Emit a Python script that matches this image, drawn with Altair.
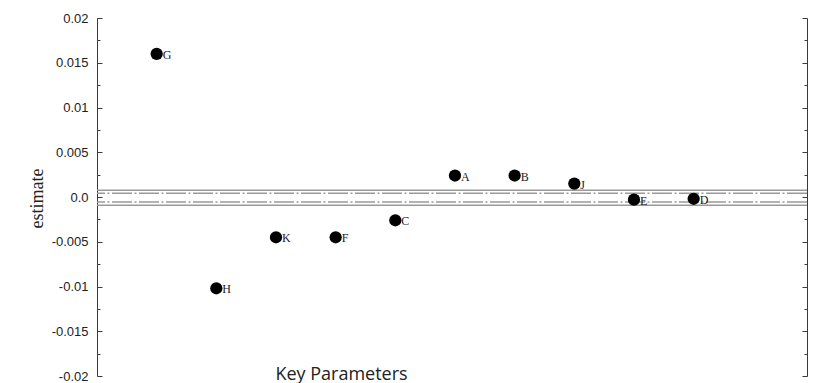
import altair as alt
import pandas as pd

# ---- data ----
params = ["G", "H", "K", "F", "C", "A", "B", "J", "E", "D"]
positions = [1, 2, 3, 4, 5, 6, 7, 8, 9, 10]
estimates = [0.016, -0.0102, -0.0045, -0.0045, -0.0026, 0.0024, 0.0024, 0.0015, -0.0003, -0.0002]
band_solid = [0.00076, -0.00092]
band_dashdot = [0.00042, -0.00056]
y_tick_values = [-0.02, -0.0175, -0.015, -0.0125, -0.01, -0.0075, -0.005, -0.0025, 0.0,
                 0.0025, 0.005, 0.0075, 0.01, 0.0125, 0.015, 0.0175, 0.02]

df = pd.DataFrame({"param": params, "pos": positions, "estimate": estimates})
df_solid = pd.DataFrame({"v": band_solid})
df_dd = pd.DataFrame({"v": band_dashdot})

W, H = 710, 358
FRAME = "#3a3a3a"
major = "abs(datum.value*200 - round(datum.value*200)) < 0.001"
tick_size = {"condition": {"test": major, "value": 5}, "value": 3}
label_expr = (major + " ? (datum.value == 0 ? '0.0' : replace(format(datum.value, '.3~f'), '\u2212', '-')) : ''")

xs = alt.Scale(domain=[0, 11.9], nice=False, zero=False)
ys = alt.Scale(domain=[-0.02, 0.02], nice=False, zero=False)

left_axis = alt.Axis(
    orient="right", offset=-W, values=y_tick_values, grid=False,
    domain=True, domainColor=FRAME, domainWidth=1,
    ticks=True, tickColor=FRAME, tickWidth=1, tickSize=tick_size,
    labelExpr=label_expr, labelAlign="right", labelBaseline="middle",
    labelPadding=-14, labelFont="Liberation Sans", labelFontSize=13,
    labelColor="#222222", labelOverlap=False,
    title="estimate", titleAngle=270, titleX=-60, titleY=180,
    titleAlign="center", titleBaseline="middle",
    titleFont="Liberation Serif", titleFontSize=18, titleFontWeight="normal",
    titleColor="#222222",
)
right_axis = alt.Axis(
    orient="left", offset=-W, values=y_tick_values, grid=False,
    domain=True, domainColor=FRAME, domainWidth=1,
    ticks=True, tickColor=FRAME, tickWidth=1, tickSize=tick_size,
    labels=False, title=None,
)
x_axis = alt.Axis(
    orient="bottom", domain=False, ticks=False, labels=False, grid=False,
    title="Key Parameters", titleX=244, titleY=3, titleAlign="center",
    titleBaseline="alphabetic", titleFont="Open Sans", titleFontSize=18,
    titleFontWeight="normal", titleColor="#222222",
)

points = alt.Chart(df).mark_circle(size=150, color="black", opacity=1).encode(
    x=alt.X("pos:Q", scale=xs, axis=x_axis, title="Key Parameters"),
    y=alt.Y("estimate:Q", scale=ys, axis=left_axis),
)
labels = alt.Chart(df).mark_text(
    align="left", baseline="middle", dx=6, dy=1,
    font="Liberation Serif", fontSize=12, color="#1a1a2a",
).encode(
    x=alt.X("pos:Q", scale=xs, axis=x_axis, title="Key Parameters"),
    y=alt.Y("estimate:Q", scale=ys, axis=None),
    text="param:N",
)
solid = alt.Chart(df_solid).mark_rule(color="#9a9a9a", strokeWidth=1.5).encode(
    y=alt.Y("v:Q", scale=ys, axis=right_axis),
)
dashdot = alt.Chart(df_dd).mark_rule(
    color="#9a9a9a", strokeWidth=1.5, strokeDash=[20, 2.5, 2, 2.5]
).encode(
    y=alt.Y("v:Q", scale=ys, axis=None),
)

chart = alt.layer(solid, dashdot, points, labels).resolve_axis(
    y="independent"
).properties(
    width=W, height=H,
    autosize=alt.AutoSizeParams(type="none"),
    padding={"left": 89, "top": 10, "right": 1, "bottom": 7},
).configure_view(stroke=None)

chart.save("out.html", embed_options={"renderer": "svg", "actions": False})
